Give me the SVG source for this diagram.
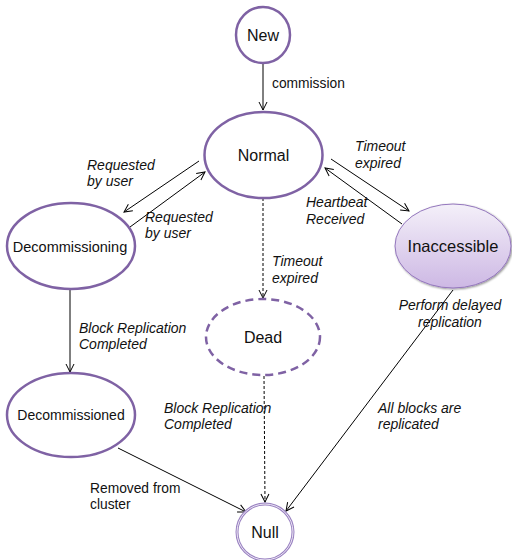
<svg xmlns="http://www.w3.org/2000/svg" width="512" height="560" viewBox="0 0 512 560">
<style>
.node{fill:#fff;stroke:#7f62a4;stroke-width:2.5}
.lbl{font-family:"Liberation Sans",Arial,sans-serif;font-size:16px;fill:#111;text-anchor:middle}
.el{font-family:"Liberation Sans",Arial,sans-serif;font-size:14px;fill:#111;font-style:italic}
.pl{font-family:"Liberation Sans",Arial,sans-serif;font-size:13.8px;fill:#111}
.e{fill:none;stroke:#000;stroke-width:1}
</style>
<defs>
<marker id="arr" markerWidth="10" markerHeight="10" refX="9" refY="5" orient="auto" markerUnits="userSpaceOnUse">
<path d="M1,1 L9,5 L1,9" fill="none" stroke="#000" stroke-width="1"/>
</marker>
<linearGradient id="ig" x1="0" y1="0" x2="0" y2="1">
<stop offset="0" stop-color="#f4f0f9"/>
<stop offset="1" stop-color="#cdb8e4"/>
</linearGradient>
<filter id="sh" x="-20%" y="-20%" width="140%" height="140%">
<feGaussianBlur in="SourceAlpha" stdDeviation="1"/>
<feOffset dx="0.5" dy="1" result="b"/>
<feComponentTransfer><feFuncA type="linear" slope="0.45"/></feComponentTransfer>
<feMerge><feMergeNode/><feMergeNode in="SourceGraphic"/></feMerge>
</filter>
</defs>
<g id="connectors">
<line class="e" x1="263" y1="63" x2="263" y2="110" marker-end="url(#arr)"/>
<line class="e" x1="199" y1="161" x2="124" y2="212" marker-end="url(#arr)"/>
<line class="e" x1="130" y1="227" x2="205" y2="172" marker-end="url(#arr)"/>
<line class="e" x1="331" y1="159" x2="409" y2="211" marker-end="url(#arr)"/>
<line class="e" x1="402" y1="224" x2="325" y2="168" marker-end="url(#arr)"/>
<line class="e" x1="263" y1="198" x2="263" y2="298" stroke-dasharray="3,2" marker-end="url(#arr)"/>
<line class="e" x1="264" y1="376" x2="265" y2="502" stroke-dasharray="3,2" marker-end="url(#arr)"/>
<line class="e" x1="70" y1="290" x2="70" y2="372" stroke="#777" marker-end="url(#arr)"/>
<line class="e" x1="118" y1="448" x2="246" y2="512" marker-end="url(#arr)"/>
<line class="e" x1="453" y1="290" x2="286" y2="511" marker-end="url(#arr)"/>
<text class="pl" x="272" y="88">commission</text>
<text class="el" x="87" y="170">Requested</text>
<text class="el" x="87" y="186">by user</text>
<text class="el" x="145" y="222">Requested</text>
<text class="el" x="145" y="238">by user</text>
<text class="el" x="355" y="151">Timeout</text>
<text class="el" x="355" y="168">expired</text>
<text class="el" x="306" y="207">Heartbeat</text>
<text class="el" x="306" y="224">Received</text>
<text class="el" x="272" y="266">Timeout</text>
<text class="el" x="272" y="283">expired</text>
<text class="el" x="450" y="310" text-anchor="middle">Perform delayed</text>
<text class="el" x="450" y="327" text-anchor="middle">replication</text>
<text class="el" x="79" y="333">Block Replication</text>
<text class="el" x="79" y="349">Completed</text>
<text class="el" x="164" y="413">Block Replication</text>
<text class="el" x="164" y="429">Completed</text>
<text class="el" x="378" y="413">All blocks are</text>
<text class="el" x="378" y="429">replicated</text>
<text class="pl" x="90" y="493">Removed from</text>
<text class="pl" x="90" y="509">cluster</text>
</g>
<g id="new">
<ellipse class="node" cx="263" cy="35" rx="27" ry="28"/>
<text class="lbl" x="263" y="41">New</text>
</g>
<g id="normal">
<ellipse class="node" cx="263.5" cy="155" rx="59" ry="43"/>
<text class="lbl" x="263.5" y="161">Normal</text>
</g>
<g id="decommissioning">
<ellipse class="node" cx="71" cy="246" rx="64" ry="43"/>
<text class="lbl" x="70" y="252" style="font-size:14.5px">Decommissioning</text>
</g>
<g id="inaccessible">
<ellipse cx="453" cy="246" rx="58" ry="42" fill="url(#ig)" stroke="#9477bd" stroke-width="1" filter="url(#sh)"/>
<text class="lbl" x="453" y="252" style="font-size:16.5px">Inaccessible</text>
</g>
<g id="dead">
<ellipse class="node" cx="263" cy="337" rx="57" ry="38" stroke-dasharray="8,5"/>
<text class="lbl" x="263" y="343">Dead</text>
</g>
<g id="decommissioned">
<ellipse class="node" cx="71" cy="415" rx="64" ry="42"/>
<text class="lbl" x="71" y="420" style="font-size:14px">Decommissioned</text>
</g>
<g id="null">
<circle cx="265" cy="532" r="28" fill="#fff" stroke="#9a82c2" stroke-width="3"/>
<circle cx="265" cy="532" r="28" fill="none" stroke="#fff" stroke-width="0.8"/>
<text class="lbl" x="265" y="538">Null</text>
</g>
</svg>
